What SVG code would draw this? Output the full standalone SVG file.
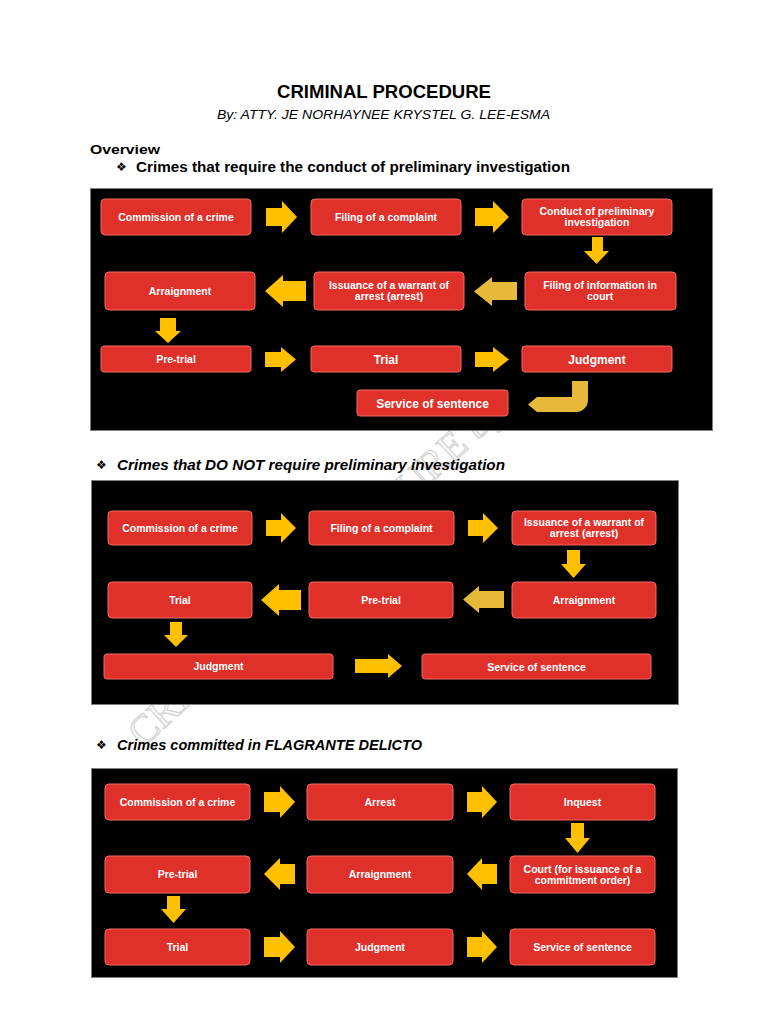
<svg xmlns="http://www.w3.org/2000/svg" width="768" height="1024" viewBox="0 0 768 1024">
<style>
.bg{fill:#ffffff}
.panel{fill:#000000;stroke:#7f7f7f;stroke-width:1}
.node{fill:#E0302A;stroke:#F06A62;stroke-width:1}
.t{font-family:"Liberation Sans",Arial,sans-serif;font-weight:bold;fill:#ffffff;font-size:10.5px;text-anchor:middle}
.tb{font-size:12px}
.arr{fill:#FFC000}
.arrm{fill:#E6B93A}
.h{font-family:"Liberation Sans",Arial,sans-serif;fill:#000000}
.bul{font-family:"DejaVu Sans",sans-serif;font-size:12px;fill:#000}
.wm{font-family:"Liberation Serif","Times New Roman",serif;font-size:40px;fill:#f6f6f6;stroke:#cfcfcf;stroke-width:1}
</style>
<rect class="bg" x="0" y="0" width="768" height="1024"/>
<g id="watermark">
<text class="wm" transform="translate(143,748) rotate(-42.6)">CRIMINAL PROCEDURE by JE</text>
</g>
<g id="headers">
<text class="h" x="277" y="98" font-size="18" font-weight="bold" textLength="214" lengthAdjust="spacingAndGlyphs">CRIMINAL PROCEDURE</text>
<text class="h" x="217" y="119" font-size="12.5" font-style="italic" textLength="333" lengthAdjust="spacingAndGlyphs">By: ATTY. JE NORHAYNEE KRYSTEL G. LEE-ESMA</text>
<text class="h" x="90" y="154" font-size="13" font-weight="bold" textLength="70" lengthAdjust="spacingAndGlyphs">Overview</text>
<text class="bul" x="116" y="171">❖</text>
<text class="h" x="136" y="172" font-size="14" font-weight="bold" textLength="434" lengthAdjust="spacingAndGlyphs">Crimes that require the conduct of preliminary investigation</text>
<text class="bul" x="96" y="469">❖</text>
<text class="h" x="117" y="470" font-size="14" font-weight="bold" font-style="italic" textLength="388" lengthAdjust="spacingAndGlyphs">Crimes that DO NOT require preliminary investigation</text>
<text class="bul" x="96" y="749">❖</text>
<text class="h" x="117" y="750" font-size="14" font-weight="bold" font-style="italic" textLength="305" lengthAdjust="spacingAndGlyphs">Crimes committed in FLAGRANTE DELICTO</text>
</g>
<g id="panels">
<rect class="panel" x="90.5" y="188.5" width="622" height="242"/>
<rect class="panel" x="91.5" y="480.5" width="587" height="224"/>
<rect class="panel" x="91.5" y="768.5" width="586" height="209"/>
</g>
<g id="connectors">
<path class="arr" d="M266,208 H282 V201 L297,217 L282,233 V226 H266 Z"/>
<path class="arr" d="M475,208 H493 V201 L509,217 L493,233 V226 H475 Z"/>
<path class="arr" d="M592,237 H603 V251 H609 L596.5,264 L584,251 H592 Z"/>
<path class="arrm" d="M517,282 H492 V277 L474,291.5 L492,306 V300 H517 Z"/>
<path class="arr" d="M306,281 H283 V275 L265,291 L283,307 V301 H306 Z"/>
<path class="arr" d="M160,318 H176 V331 H181 L168,343 L155,331 H160 Z"/>
<path class="arr" d="M265,352 H281 V347 L296,359.5 L281,372 V367 H265 Z"/>
<path class="arr" d="M475,352 H493 V347 L509,359.5 L493,372 V367 H475 Z"/>
<path class="arrm" d="M572,381 H588 V400 A12,12 0 0 1 576,412 H537 L528,404.5 L537,397 H572 Z"/>
<path class="arr" d="M266,520 H281 V513 L296,528 L281,543 V536 H266 Z"/>
<path class="arr" d="M468,520 H483 V513 L498,528 L483,543 V536 H468 Z"/>
<path class="arr" d="M567,550 H580 V564 H586 L573.5,578 L561,564 H567 Z"/>
<path class="arrm" d="M504,591 H479 V586 L463,599.5 L479,613 V608 H504 Z"/>
<path class="arr" d="M301,590 H279 V584 L261,600 L279,616 V610 H301 Z"/>
<path class="arr" d="M170,622 H182 V635 H188 L176,647 L164,635 H170 Z"/>
<path class="arr" d="M355,659 H388 V654 L402,666 L388,678 V673 H355 Z"/>
<path class="arr" d="M264,792 H280 V786 L295,802 L280,818 V812 H264 Z"/>
<path class="arr" d="M467,792 H482 V786 L497,802 L482,818 V812 H467 Z"/>
<path class="arr" d="M571,823 H584 V838 H590 L577.5,853 L565,838 H571 Z"/>
<path class="arr" d="M497,864 H482 V858 L467,874 L482,890 V884 H497 Z"/>
<path class="arr" d="M295,864 H280 V858 L264,874 L280,890 V884 H295 Z"/>
<path class="arr" d="M167,896 H180 V909 H186 L173.5,923 L161,909 H167 Z"/>
<path class="arr" d="M264,937 H280 V931 L295,947 L280,963 V957 H264 Z"/>
<path class="arr" d="M467,937 H482 V931 L497,947 L482,963 V957 H467 Z"/>
</g>
<g id="p1-commission"><rect class="node" x="101" y="199" width="150" height="36" rx="4"/><text class="t" x="176" y="220.5">Commission of a crime</text></g>
<g id="p1-filing"><rect class="node" x="311" y="199" width="150" height="36" rx="4"/><text class="t" x="386" y="220.5">Filing of a complaint</text></g>
<g id="p1-conduct"><rect class="node" x="522" y="199" width="150" height="36" rx="4"/><text class="t" x="597" y="214.5">Conduct of preliminary</text><text class="t" x="597" y="225.5">investigation</text></g>
<g id="p1-arraignment"><rect class="node" x="105" y="272" width="150" height="38" rx="4"/><text class="t" x="180" y="294.5">Arraignment</text></g>
<g id="p1-issuance"><rect class="node" x="314" y="272" width="150" height="38" rx="4"/><text class="t" x="389" y="288.5">Issuance of a warrant of</text><text class="t" x="389" y="299.5">arrest (arrest)</text></g>
<g id="p1-information"><rect class="node" x="525" y="272" width="151" height="38" rx="4"/><text class="t" x="600" y="288.5">Filing of information in</text><text class="t" x="600" y="299.5">court</text></g>
<g id="p1-pretrial"><rect class="node" x="101" y="346" width="150" height="26" rx="3"/><text class="t" x="176" y="362.5">Pre-trial</text></g>
<g id="p1-trial"><rect class="node" x="311" y="346" width="150" height="26" rx="3"/><text class="t tb" x="386" y="363.5">Trial</text></g>
<g id="p1-judgment"><rect class="node" x="522" y="346" width="150" height="26" rx="3"/><text class="t tb" x="597" y="363.5">Judgment</text></g>
<g id="p1-service"><rect class="node" x="357" y="390" width="151" height="26" rx="3"/><text class="t tb" x="432.5" y="407.5">Service of sentence</text></g>
<g id="p2-commission"><rect class="node" x="108" y="511" width="144" height="34" rx="4"/><text class="t" x="180" y="531.5">Commission of a crime</text></g>
<g id="p2-filing"><rect class="node" x="309" y="511" width="145" height="34" rx="4"/><text class="t" x="381.5" y="531.5">Filing of a complaint</text></g>
<g id="p2-issuance"><rect class="node" x="512" y="511" width="144" height="34" rx="4"/><text class="t" x="584" y="526">Issuance of a warrant of</text><text class="t" x="584" y="537">arrest (arrest)</text></g>
<g id="p2-trial"><rect class="node" x="108" y="582" width="144" height="36" rx="4"/><text class="t" x="180" y="603.5">Trial</text></g>
<g id="p2-pretrial"><rect class="node" x="309" y="582" width="144" height="36" rx="4"/><text class="t" x="381" y="603.5">Pre-trial</text></g>
<g id="p2-arraignment"><rect class="node" x="512" y="582" width="144" height="36" rx="4"/><text class="t" x="584" y="603.5">Arraignment</text></g>
<g id="p2-judgment"><rect class="node" x="104" y="654" width="229" height="25" rx="3"/><text class="t" x="218.5" y="670">Judgment</text></g>
<g id="p2-service"><rect class="node" x="422" y="654" width="229" height="25" rx="3"/><text class="t" x="536.5" y="670.5" font-size="12">Service of sentence</text></g>
<g id="p3-commission"><rect class="node" x="105" y="784" width="145" height="36" rx="4"/><text class="t" x="177.5" y="805.5">Commission of a crime</text></g>
<g id="p3-arrest"><rect class="node" x="307" y="784" width="146" height="36" rx="4"/><text class="t" x="380" y="805.5">Arrest</text></g>
<g id="p3-inquest"><rect class="node" x="510" y="784" width="145" height="36" rx="4"/><text class="t" x="582.5" y="805.5">Inquest</text></g>
<g id="p3-pretrial"><rect class="node" x="105" y="856" width="145" height="37" rx="4"/><text class="t" x="177.5" y="878">Pre-trial</text></g>
<g id="p3-arraignment"><rect class="node" x="307" y="856" width="146" height="37" rx="4"/><text class="t" x="380" y="878">Arraignment</text></g>
<g id="p3-court"><rect class="node" x="510" y="856" width="145" height="37" rx="4"/><text class="t" x="582.5" y="872.5">Court (for issuance of a</text><text class="t" x="582.5" y="883.5">commitment order)</text></g>
<g id="p3-trial"><rect class="node" x="105" y="929" width="145" height="36" rx="4"/><text class="t" x="177.5" y="950.5">Trial</text></g>
<g id="p3-judgment"><rect class="node" x="307" y="929" width="146" height="36" rx="4"/><text class="t" x="380" y="950.5">Judgment</text></g>
<g id="p3-service"><rect class="node" x="510" y="929" width="145" height="36" rx="4"/><text class="t" x="582.5" y="950.5">Service of sentence</text></g>
</svg>
